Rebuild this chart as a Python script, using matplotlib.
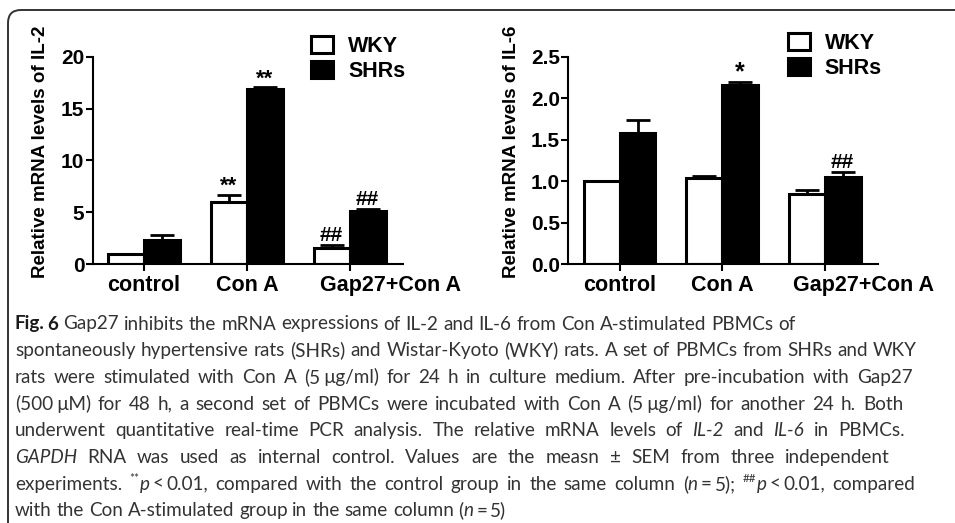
import re
import numpy as np
import matplotlib
matplotlib.use('Agg')
import matplotlib.pyplot as plt
import matplotlib.transforms as mtransforms
from matplotlib import font_manager
from matplotlib.patches import FancyBboxPatch

categories = ['control', 'Con A', 'Gap27+Con A']
series = ['WKY', 'SHRs']

# IL-2
il2_wky = [1.0, 6.0, 1.55]
il2_wky_err = [0.0, 0.7, 0.3]
il2_shr = [2.3, 16.9, 5.15]
il2_shr_err = [0.5, 0.15, 0.12]
il2_marks_wky = ['', '**', '##']
il2_marks_shr = ['', '**', '##']

# IL-6
il6_wky = [1.0, 1.035, 0.84]
il6_wky_err = [0.0, 0.025, 0.05]
il6_shr = [1.58, 2.16, 1.045]
il6_shr_err = [0.16, 0.04, 0.06]
il6_marks_wky = ['', '', '']
il6_marks_shr = ['', '*', '##']

caption_lines = [
    '{b:Fig.~6} Gap27 inhibits the mRNA expressions of IL-2 and IL-6 from Con A-stimulated PBMCs of',
    'spontaneously hypertensive rats (SHRs) and Wistar-Kyoto (WKY) rats. A set of PBMCs from SHRs and WKY',
    'rats were stimulated with Con A (5~µg/ml) for 24 h in culture medium. After pre-incubation with Gap27',
    '(500~µM) for 48 h, a second set of PBMCs were incubated with Con A (5~µg/ml) for another 24 h. Both',
    'underwent quantitative real-time PCR analysis. The relative mRNA levels of {i:IL-2} and {i:IL-6} in PBMCs.',
    '{i:GAPDH} RNA was used as internal control. Values are the measn ± SEM from three independent',
    'experiments. {s:**}{i:p}~<~0.01, compared with the control group in the same column ({i:n}~=~5); '
    '{s:##}{i:p}~<~0.01, compared',
    'with the Con A-stimulated group in the same column ({i:n}~=~5)',
]
caption_ends = [None, 917, 913, 903, 905, 890, 915, None]

plt.rcParams['font.family'] = 'Liberation Sans'
plt.rcParams['font.weight'] = 'bold'

W, H = 955, 523
fig = plt.figure(figsize=(W / 100, H / 100), dpi=100)
fig.patch.set_facecolor('white')

# rounded frame round the figure panel
frame = FancyBboxPatch((0.08, -1.0), 12, 5.13 + 1.0,
                       boxstyle='round,pad=0,rounding_size=0.13',
                       transform=fig.dpi_scale_trans, fill=False,
                       edgecolor='#333333', linewidth=1.4)
fig.add_artist(frame)


def panel(rect, wky, wky_err, shr, shr_err, marks_wky, marks_shr,
          ylim, yticks, yfmt, legend_anchor, last_shift):
    ax = fig.add_axes(rect)
    x = np.arange(len(categories))
    w = 0.35
    b1 = ax.bar(x - w / 2, wky, w, color='white', edgecolor='black',
                linewidth=2.2, label=series[0], zorder=2)
    b2 = ax.bar(x + w / 2, shr, w, color='black', edgecolor='black',
                linewidth=2.2, label=series[1], zorder=2)
    for xs, v, e in [(x - w / 2, wky, wky_err), (x + w / 2, shr, shr_err)]:
        ax.errorbar(xs, v, yerr=[np.zeros(len(v)), e], fmt='none',
                    ecolor='black', elinewidth=2, capsize=8.5, capthick=2,
                    zorder=3)
    for xs, v, e, marks in [(x - w / 2, wky, wky_err, marks_wky),
                            (x + w / 2, shr, shr_err, marks_shr)]:
        for xi, vi, ei, m in zip(xs, v, e, marks):
            if not m:
                continue
            if m == '*':
                dy, fs = 1.5, 18
            elif '*' in m:
                dy, fs = 2.0, 16
            else:
                dy, fs = 3.0, 15
            ax.annotate(m, (xi, vi + ei), xytext=(0, dy),
                        textcoords='offset points', ha='center',
                        va='baseline', fontsize=fs, fontweight='bold')
    ax.set_xlim(-0.5, 2.52)
    ax.set_ylim(*ylim)
    ax.set_yticks(yticks)
    ax.set_yticklabels([yfmt.format(t) for t in yticks])
    ax.set_xticks(x)
    ax.set_xticklabels(categories)
    for s in ['top', 'right']:
        ax.spines[s].set_visible(False)
    for s in ['left', 'bottom']:
        ax.spines[s].set_linewidth(1.5)
    ax.tick_params(axis='y', length=5, width=1.5, labelsize=15, pad=1)
    ax.tick_params(axis='x', length=5, width=1.5, labelsize=15.5, pad=3)
    # the long last label sits to the right of its tick in the original
    lab = ax.xaxis.get_major_ticks()[2].label1
    lab.set_transform(lab.get_transform() +
                      mtransforms.ScaledTranslation(last_shift, 0, fig.dpi_scale_trans))
    ax.legend(handles=[b1, b2], loc='upper left', bbox_to_anchor=legend_anchor,
              frameon=False, fontsize=15.5, handlelength=1.0,
              handleheight=0.85, handletextpad=0.7, labelspacing=0.2,
              borderpad=0, borderaxespad=0)
    return ax


bottom = 1 - 264 / H
height = 207.3 / H
panel([92.7 / W, bottom, 310.3 / W, height], il2_wky, il2_wky_err,
      il2_shr, il2_shr_err, il2_marks_wky, il2_marks_shr,
      (0, 20), [0, 5, 10, 15, 20], '{:g}', (0.705, 1.10), 0.41)
panel([568.3 / W, bottom, 309.7 / W, height], il6_wky, il6_wky_err,
      il6_shr, il6_shr_err, il6_marks_wky, il6_marks_shr,
      (0, 2.5), [0, 0.5, 1.0, 1.5, 2.0, 2.5], '{:.1f}', (0.71, 1.115), 0.39)

fig.text(41 / W, 1 - 152 / H, 'Relative mRNA levels of IL-2', rotation=90,
         ha='center', va='center', fontsize=13.5, fontweight='bold')
fig.text(511 / W, 1 - 152 / H, 'Relative mRNA levels of IL-6', rotation=90,
         ha='center', va='center', fontsize=13.5, fontweight='bold')

# ---- caption, set word by word so the lines can be justified ----
names = {f.name for f in font_manager.fontManager.ttflist}
cap_font = 'Liberation Sans Narrow' if 'Liberation Sans Narrow' in names else 'Lato'
renderer = fig.canvas.get_renderer()


def parse(word):
    segs = []
    pos = 0
    for m in re.finditer(r'\{(\w):([^}]*)\}', word):
        if m.start() > pos:
            segs.append((word[pos:m.start()], 'n'))
        segs.append((m.group(2), m.group(1)))
        pos = m.end()
    if pos < len(word):
        segs.append((word[pos:], 'n'))
    out = []
    for t, s in segs:
        parts = t.split('~')
        for k, p in enumerate(parts):
            if k > 0:
                out.append((None, s))
            if p:
                out.append((p, s))
    return out


def props(style, size):
    p = dict(family=cap_font, fontsize=size, color='#333333',
             fontweight='normal', fontstyle='normal')
    if style == 'b':
        p['fontweight'] = 'bold'
        p['color'] = '#1a1a1a'
    elif style == 'i':
        p['fontstyle'] = 'italic'
    elif style == 's':
        p['fontsize'] = size * 0.62
    return p


def width(s, p):
    t = fig.text(0, 0, s, **p)
    wd = t.get_window_extent(renderer).width
    t.remove()
    return wd


def space_w(style, size):
    p = props(style, size)
    return width('a a', p) - width('aa', p)


def word_width(segs, size):
    tot = 0
    for t, s in segs:
        if t is None:
            tot += 0.6 * space_w(s, size)
        else:
            tot += width(t, props(s, size))
    return tot


left = 15
words = [[parse(wd) for wd in line.split(' ')] for line in caption_lines]

base = 10
ratios = []
for ln, end in zip(words, caption_ends):
    if end is None:
        continue
    nat = sum(word_width(s, base) for s in ln) + space_w('n', base) * (len(ln) - 1)
    ratios.append((end - left) / nat)
size = base * min(ratios) * 0.99

for i, (ln, end) in enumerate(zip(words, caption_ends)):
    y = 329.5 + 26.7 * i
    wds = [word_width(s, size) for s in ln]
    if end is None:
        gap = space_w('n', size)
    else:
        gap = (end - left - sum(wds)) / (len(ln) - 1)
    xx = left
    for segs, ww in zip(ln, wds):
        xs = xx
        for t, s in segs:
            if t is None:
                xs += 0.6 * space_w(s, size)
                continue
            p = props(s, size)
            yy = y - (0.42 * size * 100 / 72 if s == 's' else 0)
            fig.text(xs / W, 1 - yy / H, t, ha='left', va='baseline', **p)
            xs += width(t, p)
        xx += ww + gap

fig.savefig('out.png', dpi=100, facecolor='white')
